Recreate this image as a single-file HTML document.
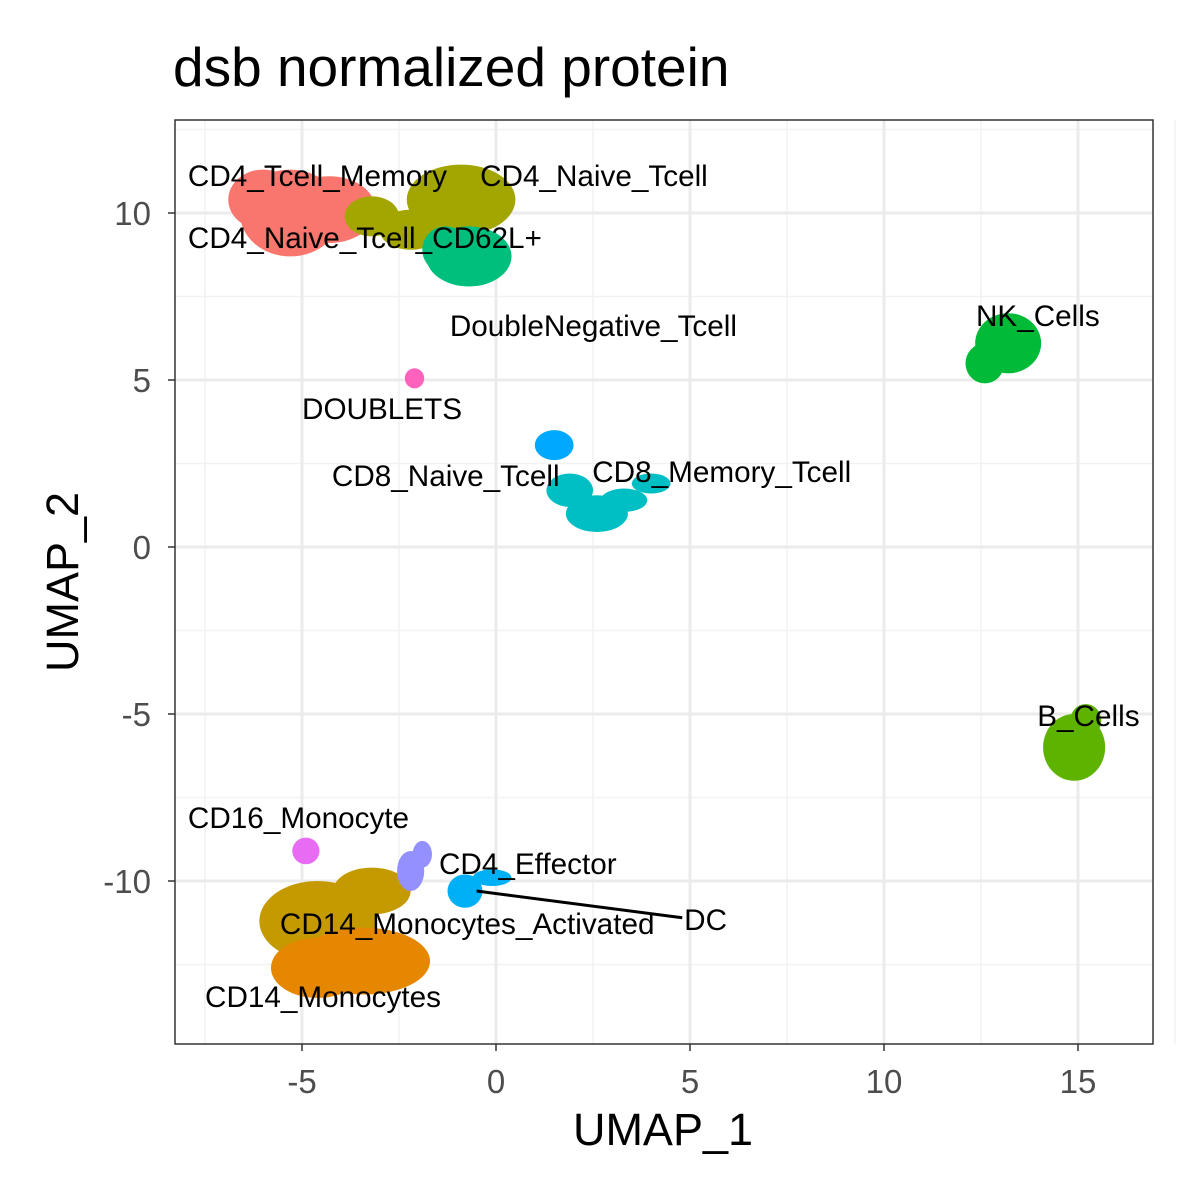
<!DOCTYPE html>
<html><head><meta charset="utf-8"><style>
body{margin:0;background:#fff}
svg{display:block;font-family:"Liberation Sans",Arial,sans-serif}
</style></head><body>
<svg id="chart" width="1200" height="1200" viewBox="0 0 1200 1200">
<rect width="1200" height="1200" fill="#fff"/>
<text x="173" y="86" font-size="55" fill="#000">dsb normalized protein</text>
<g id="grid"></g>
<g id="marks"></g>
<g id="labels"></g>
<rect x="175" y="120" width="978" height="924" fill="none" stroke="#333" stroke-width="1.5"/>
<g id="axes"></g>
<text x="663" y="1145" font-size="45" text-anchor="middle">UMAP_1</text>
<text transform="translate(78,582) rotate(-90)" font-size="45" text-anchor="middle">UMAP_2</text>
</svg>
<script>
const xTicks=[-5,0,5,10,15];
const yTicks=[-10,-5,0,5,10];
const clusterNames=["CD4_Tcell_Memory","CD4_Naive_Tcell","CD4_Naive_Tcell_CD62L+","DOUBLETS","CD8_Naive_Tcell","CD8_Memory_Tcell","NK_Cells","B_Cells","CD14_Monocytes_Activated","CD14_Monocytes","CD16_Monocyte","CD4_Effector","DC"];
const clusterColors=["#F8766D","#A3A500","#00BF7D","#FF62BC","#00A9FF","#00BFC4","#00BA38","#5DB300","#C49A00","#E58700","#E76BF3","#9590FF","#00B0F6"];
// blobs: cluster index, center u, center v, radius u, radius v
const blobCluster=[0,0,0,1,1,1,2,2,3,4,5,5,5,5,6,6,7,7,8,8,9,9,10,11,11,12,12];
const blobU=[-5.3,-4.3,-6.0,-0.9,-2.2,-3.2,-0.7,-1.3,-2.1,1.5,1.9,2.6,3.3,4.0,13.2,12.6,14.9,15.2,-4.6,-3.2,-3.4,-4.6,-4.9,-2.2,-1.9,-0.8,-0.1];
const blobV=[10.0,10.1,10.4,10.4,9.5,9.9,8.7,8.9,5.05,3.05,1.7,1.0,1.4,1.9,6.1,5.5,-6.0,-5.2,-11.2,-10.3,-12.4,-12.6,-9.1,-9.7,-9.2,-10.3,-9.9];
const blobRU=[1.3,1.2,0.9,1.4,0.8,0.7,1.1,0.6,0.25,0.5,0.6,0.8,0.6,0.5,0.85,0.5,0.8,0.4,1.5,1.0,1.7,1.2,0.35,0.35,0.25,0.45,0.5];
const blobRV=[1.3,1.0,0.9,1.05,0.6,0.6,0.9,0.7,0.3,0.45,0.5,0.55,0.35,0.3,0.9,0.6,1.0,0.5,1.2,0.7,1.0,0.9,0.4,0.6,0.4,0.5,0.25];
const labelText=["CD4_Tcell_Memory","CD4_Naive_Tcell","CD4_Naive_Tcell_CD62L+","DoubleNegative_Tcell","DOUBLETS","CD8_Naive_Tcell","CD8_Memory_Tcell","NK_Cells","B_Cells","CD16_Monocyte","CD4_Effector","CD14_Monocytes_Activated","DC","CD14_Monocytes"];
const labelU=[-7.94,-0.41,-7.94,-1.19,-5.0,-4.23,2.48,12.37,13.95,-7.94,-1.47,-5.57,4.85,-7.5];
const labelV=[11.11,11.11,9.25,6.62,4.13,2.12,2.25,6.92,-5.06,-8.11,-9.49,-11.29,-11.17,-13.47];

const X=u=>496+38.8*u, Y=v=>547-33.4*v;
const NS="http://www.w3.org/2000/svg";
const mk=(t,a,p)=>{const e=document.createElementNS(NS,t);for(const k in a)e.setAttribute(k,a[k]);p.appendChild(e);return e;};
const grid=document.getElementById('grid'),marks=document.getElementById('marks'),labels=document.getElementById('labels'),axes=document.getElementById('axes');
mk('rect',{x:175,y:120,width:978,height:924,fill:'#fff'},grid);
for(let u=-7.5;u<=17.5;u+=5){const e=mk('line',{x1:X(u),x2:X(u),y1:120,y2:1044,stroke:'#F2F2F2','stroke-width':1.5},grid);

}
for(let v=-12.5;v<=12.5;v+=5){const e=mk('line',{x1:175,x2:1153,y1:Y(v),y2:Y(v),stroke:'#F2F2F2','stroke-width':1.5},grid);

}
xTicks.forEach(t=>{const e=mk('line',{x1:X(t),x2:X(t),y1:120,y2:1044,stroke:'#EBEBEB','stroke-width':3},grid);


mk('line',{x1:X(t),x2:X(t),y1:1044,y2:1051,stroke:'#333','stroke-width':1.5},axes);
const l=mk('text',{x:X(t),y:1093,'font-size':33,'text-anchor':'middle',fill:'#4D4D4D'},axes);l.textContent=t;

});
yTicks.forEach(t=>{const e=mk('line',{x1:175,x2:1153,y1:Y(t),y2:Y(t),stroke:'#EBEBEB','stroke-width':3},grid);


mk('line',{x1:168,x2:175,y1:Y(t),y2:Y(t),stroke:'#333','stroke-width':1.5},axes);
const l=mk('text',{x:151,y:Y(t)+12,'font-size':33,'text-anchor':'end',fill:'#4D4D4D'},axes);l.textContent=t;

});
blobCluster.forEach((c,i)=>{const e=mk('ellipse',{cx:X(blobU[i]),cy:Y(blobV[i]),rx:blobRU[i]*38.8,ry:blobRV[i]*33.4,fill:clusterColors[c]},marks);

});
const ln=mk('line',{x1:X(-0.5),y1:Y(-10.3),x2:X(4.8),y2:Y(-11.1),stroke:'#000','stroke-width':3},labels);


labelText.forEach((t,i)=>{const e=mk('text',{x:X(labelU[i]),y:Y(labelV[i])+10,'font-size':29.7,'text-anchor':'start',fill:'#000'},labels);e.textContent=t;

});
</script>
</body></html>
